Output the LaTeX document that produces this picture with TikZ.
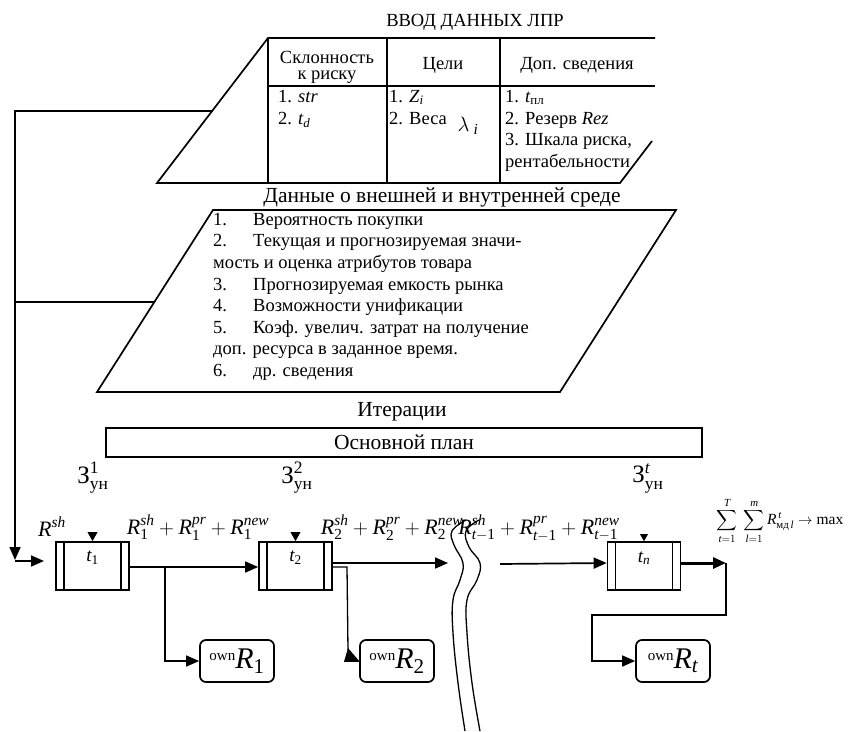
\documentclass[tikz,border=0pt]{standalone}
\usepackage{fontspec}
\usepackage{amsmath}
\setmainfont{Liberation Serif}
\usetikzlibrary{arrows.meta}
\newcommand\ownlab[1]{{\fontsize{15}{15}\selectfont\raisebox{8pt}{own}}{\fontsize{30}{30}\selectfont$\textit{R}_{#1}$}}
\newcommand\Rsum[1]{$\textit{R}^{\textit{sh}}_{#1}+\textit{R}^{\textit{pr}}_{#1}+\textit{R}^{\textit{new}}_{#1}$}
\begin{document}
\begin{tikzpicture}[x=1pt,y=-1pt,
  ln/.style={line width=1.7pt},
  arr/.style={line width=1.7pt,-{Triangle[length=13pt,width=11pt]}},
  tbox/.style={draw,line width=1.7pt,minimum width=73pt,minimum height=48pt,inner sep=0pt},
  obox/.style={draw,line width=1.7pt,rounded corners=6pt,minimum width=74pt,minimum height=42pt,inner sep=0pt},
  body/.style={font=\fontsize{18.5}{21.5}\selectfont,inner sep=0pt},
  big/.style={font=\fontsize{21.5}{24}\selectfont,inner sep=0pt},
  lw/.style={body,anchor=mid west},
  rlab/.style={font=\fontsize{22}{22}\selectfont,inner sep=0pt},
  zlab/.style={font=\fontsize{25}{25}\selectfont,inner sep=0pt},
  brk/.style={line width=1.3pt}
]
\useasboundingbox (0,0) rectangle (848,731);
% ---- top parallelogram with table
\coordinate (p1a) at (268,38); \coordinate (p1b) at (655,38);
\coordinate (p1c) at (652,141); \coordinate (p1d) at (620,183);
\coordinate (p1e) at (157,183);
\draw[ln] (p1c) -- (p1d) -- (p1e) -- (p1a) -- (p1b);
\draw[ln] (268,38) -- (268,183) (387,38) -- (387,183) (500,38) -- (500,183) (268,86) -- (655,86);
\node[font=\fontsize{18.5}{20}\selectfont,inner sep=0pt] (hdr) at (475,22) {ВВОД ДАННЫХ ЛПР};
\node[font=\fontsize{18.5}{16}\selectfont,align=center,inner sep=0pt] (h1) at (327,67) {Склонность\\к риску};
\node[body] (h2) at (443,65) {Цели};
\node[body] (h3) at (577,65) {Доп. сведения};
\node[lw] (c11) at (278,100) {1. \textit{str}};
\node[lw] (c12) at (278,122) {2. $\textit{t}_{\textit{d}}$};
\node[lw] (c21) at (389,100) {1. $\textit{Z}_{\textit{i}}$};
\node[lw] (c22) at (389,122) {2. Веса};
\node[font=\fontsize{22}{22}\selectfont,inner sep=0pt] (lam) at (468,126) {$\lambda_{\;\textit{i}}$};
\node[lw] (c31) at (505,100) {1. $\textit{t}_{\text{пл}}$};
\node[lw] (c32) at (505,122) {2. Резерв \textit{Rez}};
\node[lw] (c33) at (505,143) {3. Шкала риска,};
\node[lw] (c34) at (505,165) {рентабельности};
% ---- second parallelogram
\node[big] (env) at (442,197) {Данные о внешней и внутренней среде};
\draw[ln] (213,210) -- (676,210) -- (560,392) -- (97,392) -- cycle;
\node[lw] (e1n) at (213,223) {1.}; \node[lw] (e1) at (253,223) {Вероятность покупки};
\node[lw] (e2n) at (213,244) {2.}; \node[lw] (e2) at (253,244) {Текущая и прогнозируемая значи-};
\node[lw] (e2b) at (213,266) {мость и оценка атрибутов товара};
\node[lw] (e3n) at (213,288) {3.}; \node[lw] (e3) at (253,288) {Прогнозируемая емкость рынка};
\node[lw] (e4n) at (213,309) {4.}; \node[lw] (e4) at (253,309) {Возможности унификации};
\node[lw] (e5n) at (213,331) {5.}; \node[lw] (e5) at (253,331) {Коэф. увелич. затрат на получение};
\node[lw] (e5b) at (213,352) {доп. ресурса в заданное время.};
\node[lw] (e6n) at (213,374) {6.}; \node[lw] (e6) at (253,374) {др. сведения};
% ---- plan
\node[big] (iter) at (402,412) {Итерации};
\node[big,draw,line width=1.7pt,minimum width=596pt,minimum height=29pt] (plan) at (404,442.5) {Основной план};
% ---- labels
\node[zlab] (z1) at (93,478) {$\text{З}^{\text{1}}_{\text{ун}}$};
\node[zlab] (z2) at (297,478) {$\text{З}^{\text{2}}_{\text{ун}}$};
\node[zlab] (zt) at (648,478) {$\text{З}^{\textit{t}}_{\text{ун}}$};
\node[rlab] (r0) at (52,527) {$\textit{R}^{\textit{sh}}$};
\node[rlab] (r1) at (198,528) {\Rsum{\text{1}}};
\node[rlab] (r2) at (392,528) {\Rsum{\text{2}}};
\node[rlab] (rt) at (539,528) {\Rsum{\textit{t}-\text{1}}};
\node[font=\fontsize{15.5}{15.5}\selectfont,inner sep=0pt] (goal) at (780,521)
  {$\displaystyle\sum_{\textit{t}=1}^{\textit{T}}\ \sum_{\textit{l}=1}^{\textit{m}}\textit{R}^{\,\textit{t}}_{\text{мд}\,\textit{l}}\to\text{max}$};
% ---- process boxes
\node[tbox] (t1) at (92.5,566) {};
\node[tbox] (t2) at (295.5,566) {};
\node[tbox] (tn) at (644,566) {};
\foreach \b in {t1,t2,tn}{
  \draw[line width=1.4pt] ([xshift=9pt]\b.north west) -- ([xshift=9pt]\b.south west);
  \draw[line width=1.4pt] ([xshift=-9pt]\b.north east) -- ([xshift=-9pt]\b.south east);
}
\node[font=\fontsize{19}{19}\selectfont,inner sep=0pt] (t1l) at ([yshift=8pt]t1.center) {$\textit{t}_{\text{1}}$};
\node[font=\fontsize{19}{19}\selectfont,inner sep=0pt] (t2l) at ([yshift=8pt]t2.center) {$\textit{t}_{\text{2}}$};
\node[font=\fontsize{19}{19}\selectfont,inner sep=0pt] (tnl) at ([yshift=8pt]tn.center) {$\textit{t}_{\textit{n}}$};
\fill (t1.north) -- ++(-5,-9) -- ++(10,0) -- cycle;
\fill (t2.north) -- ++(-5,-9) -- ++(10,0) -- cycle;
\fill (tn.north) -- ++(-4,-7) -- ++(8,0) -- cycle;
% ---- result boxes
\node[obox] (o1) at (237,661) {\ownlab{\text{1}}};
\node[obox] (o2) at (397,661) {\ownlab{\text{2}}};
\node[obox] (ot) at (673,661) {\ownlab{\textit{t}}};
% ---- feedback from input data
\coordinate (fb1) at (212,111); \coordinate (fb2) at (154.4,302);
\coordinate (fbc) at (15,560); \coordinate (in1) at (44,561);
\draw[arr] (fb1) -| (fbc);
\draw[ln] (fb2) -- (fb2 -| fbc);
\draw[arr] (15,561) -- (in1);
% ---- chain connectors
\draw[arr] ([yshift=-1pt]t1.east) -- ([yshift=-1pt]t2.west);
\coordinate (b1) at (165,567);
\draw[arr] (b1) |- (o1.west);
\coordinate (brkL) at (448,563);
\draw[arr] ([yshift=3pt]t2.east) -- (brkL);
\coordinate (b2) at (347,567);
\draw[line width=1.3pt] ([yshift=-1pt]t2.east) -- (b2) -- (348,650);
\fill (344,661.8) -- (348,648) -- (o2.west) -- ++(0,0.8) -- cycle;
\coordinate (brkR) at (500,564);
\draw[arr] (brkR) -- ([yshift=3pt]tn.west);
\coordinate (c1) at (726,563);
\draw[line width=3pt,-{Triangle[length=13pt,width=11pt]}] ([yshift=3pt]tn.east) -- (c1);
\draw[arr] (c1) |- (592,615) |- (ot.west);
% ---- break symbol
\draw[brk] plot[smooth,tension=0.7] coordinates {(466,520) (452,531) (454,545) (463,563) (460,580) (453,600) (453,633) (458,683) (465,731)};
\draw[brk] plot[smooth,tension=0.7] coordinates {(479,520) (466,531) (469,547) (480,563) (477,580) (467,600) (467,633) (472,683) (480,731)};
\end{tikzpicture}
\end{document}
